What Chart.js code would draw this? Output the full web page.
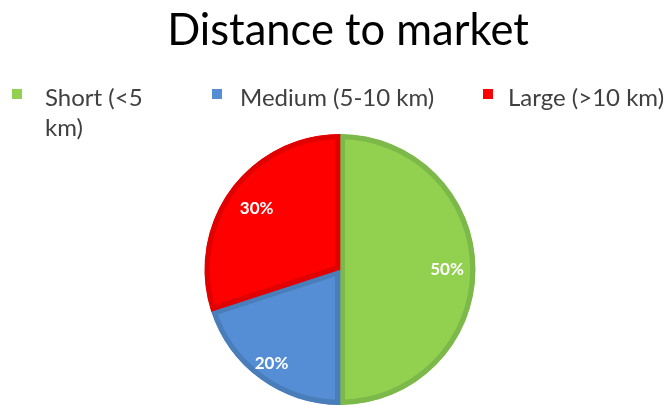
<!DOCTYPE html>
<html>
<head>
<meta charset="utf-8">
<script src="https://cdn.jsdelivr.net/npm/chart.js@4"></script>
<style>
  html, body { margin: 0; padding: 0; background: #fff; }
  #wrap { position: relative; width: 672px; height: 405px; overflow: hidden; }
  #chart { position: absolute; left: 0; top: 0; }
  #title {
    position: absolute; left: 12px; top: 2px; width: 672px; text-align: center;
    font-family: Lato, sans-serif; font-size: 43.5px; line-height: 1.2; color: #000;
  }
  #legend { position: absolute; left: 0; top: 82px; width: 672px; }
  .item { position: absolute; font-family: Lato, sans-serif; font-size: 24px; color: #404040; line-height: 30px; }
  .box { position: absolute; width: 10px; height: 10px; top: 7px; }
  .txt { position: absolute; }
</style>
</head>
<body>
<div id="wrap">
  <canvas id="chart" width="672" height="405"></canvas>
  <div id="title"></div>
  <div id="legend"></div>
</div>
<script>
const chartTitle = 'Distance to market';
const categories = ['Short (<5 km)', 'Medium (5-10 km)', 'Large (>10 km)'];
const shares = [50, 20, 30];
const fillColors = ['#92D050', '#558ED5', '#FF0000'];
const edgeColors = ['#7DB84A', '#4A7EBB', '#E00000'];
// how far out each percent label sits, as a share of the radius
const labelReach = [0.79, 0.86, 0.76];

document.getElementById('title').textContent = chartTitle;

// legend rows, html so the first label can wrap like the original
const legendSpots = [
  { box: 12, text: 45, width: 125 },
  { box: 212, text: 240, width: 240 },
  { box: 483, text: 508, width: 170 }
];
const legend = document.getElementById('legend');
categories.forEach(function (name, i) {
  const spot = legendSpots[i];
  const item = document.createElement('div');
  item.className = 'item';
  item.style.left = '0px';
  const box = document.createElement('div');
  box.className = 'box';
  box.style.left = spot.box + 'px';
  box.style.background = fillColors[i];
  const txt = document.createElement('div');
  txt.className = 'txt';
  txt.style.left = spot.text + 'px';
  txt.style.width = spot.width + 'px';
  txt.textContent = name;
  item.appendChild(box);
  item.appendChild(txt);
  legend.appendChild(item);
});

const sliceLabels = {
  id: 'sliceLabels',
  afterDatasetsDraw(chart) {
    const ctx = chart.ctx;
    const meta = chart.getDatasetMeta(0);
    ctx.save();
    ctx.fillStyle = '#fff';
    ctx.font = 'bold 17px Lato, sans-serif';
    ctx.textAlign = 'center';
    ctx.textBaseline = 'middle';
    meta.data.forEach(function (arc, i) {
      const p = arc.getProps(['x', 'y', 'startAngle', 'endAngle', 'outerRadius'], true);
      const mid = (p.startAngle + p.endAngle) / 2;
      const r = p.outerRadius * labelReach[i];
      ctx.fillText(shares[i] + '%', p.x + Math.cos(mid) * r, p.y + Math.sin(mid) * r);
    });
    ctx.restore();
  }
};

new Chart(document.getElementById('chart'), {
  type: 'pie',
  data: {
    labels: categories,
    datasets: [{
      data: shares,
      backgroundColor: fillColors,
      borderColor: edgeColors,
      borderWidth: 5,
      borderAlign: 'inner'
    }]
  },
  options: {
    responsive: false,
    animation: false,
    layout: { padding: { top: 134, left: 8, right: 0, bottom: 0 } },
    plugins: {
      legend: { display: false },
      tooltip: { enabled: false }
    }
  },
  plugins: [sliceLabels]
});
</script>
</body>
</html>
